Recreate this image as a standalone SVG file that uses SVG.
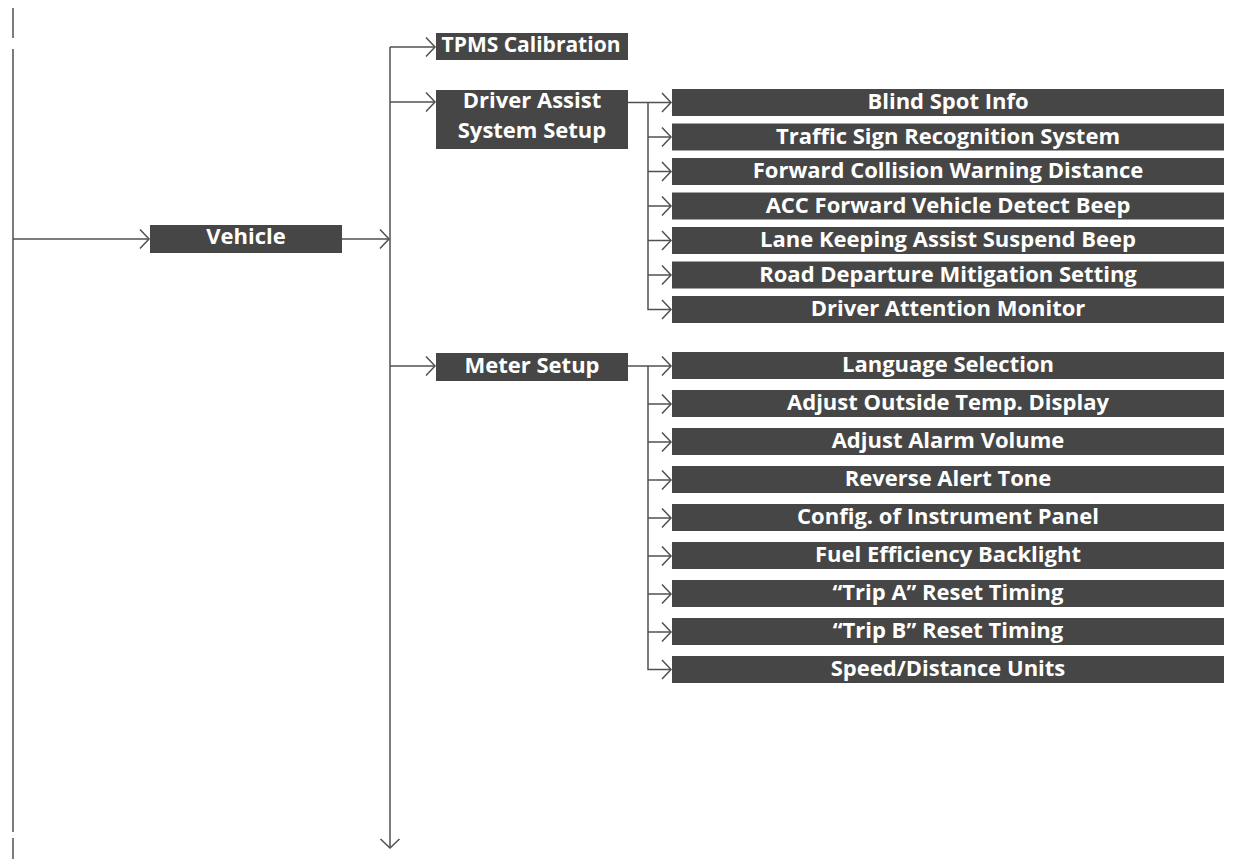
<svg xmlns="http://www.w3.org/2000/svg" width="1235" height="859" viewBox="0 0 1235 859">
<style>
.box{fill:#464646}
.t{font-family:"Open Sans","Noto Sans","DejaVu Sans",sans-serif;font-weight:bold;font-size:22px;fill:#ffffff;text-anchor:middle}
.ln{fill:none;stroke:#505050;stroke-width:1.5}
</style>
<defs>
<marker id="ch" markerUnits="userSpaceOnUse" markerWidth="24" markerHeight="24" viewBox="-12 -12 24 24" refX="0" refY="0" orient="auto" overflow="visible">
<path d="M-9,-9.5 L0,0 L-9,9.5" fill="none" stroke="#505050" stroke-width="1.5"/>
</marker>
</defs>
<g id="connectors">
<path class="ln" d="M13,8 V38"/>
<path class="ln" d="M13,49 V832"/>
<path class="ln" d="M13,838 V859"/>
<path class="ln" d="M13,239 H149" marker-end="url(#ch)"/>
<path class="ln" d="M342,239 H389" marker-end="url(#ch)"/>
<path class="ln" d="M390,47 V848" marker-end="url(#ch)"/>
<path class="ln" d="M390,47 H435" marker-end="url(#ch)"/>
<path class="ln" d="M390,102 H435" marker-end="url(#ch)"/>
<path class="ln" d="M390,366 H435" marker-end="url(#ch)"/>
<path class="ln" d="M628,102.5 H671" marker-end="url(#ch)"/>
<path class="ln" d="M648,102.5 V309.5 H671" marker-end="url(#ch)"/>
<path class="ln" d="M648,137 H671" marker-end="url(#ch)"/>
<path class="ln" d="M648,171.5 H671" marker-end="url(#ch)"/>
<path class="ln" d="M648,206 H671" marker-end="url(#ch)"/>
<path class="ln" d="M648,240.5 H671" marker-end="url(#ch)"/>
<path class="ln" d="M648,275 H671" marker-end="url(#ch)"/>
<path class="ln" d="M628,366 H671" marker-end="url(#ch)"/>
<path class="ln" d="M648,366 V669.5 H671" marker-end="url(#ch)"/>
<path class="ln" d="M648,404 H671" marker-end="url(#ch)"/>
<path class="ln" d="M648,442 H671" marker-end="url(#ch)"/>
<path class="ln" d="M648,480 H671" marker-end="url(#ch)"/>
<path class="ln" d="M648,518 H671" marker-end="url(#ch)"/>
<path class="ln" d="M648,556 H671" marker-end="url(#ch)"/>
<path class="ln" d="M648,594 H671" marker-end="url(#ch)"/>
<path class="ln" d="M648,632 H671" marker-end="url(#ch)"/>
</g>
<g id="vehicle"><rect class="box" x="150" y="225" width="192" height="28"/><text class="t" x="246" y="244">Vehicle</text></g>
<g id="tpms"><rect class="box" x="436" y="33" width="192" height="27"/><text class="t" x="531" y="52" style="font-size:21px">TPMS Calibration</text></g>
<g id="driver-assist"><rect class="box" x="436" y="90" width="192" height="59"/><text class="t" x="532" y="107.5">Driver Assist</text><text class="t" x="532" y="137.5">System Setup</text></g>
<g id="meter"><rect class="box" x="436" y="353" width="192" height="28"/><text class="t" x="532" y="373">Meter Setup</text></g>
<g id="blind-spot"><rect class="box" x="672" y="89" width="552" height="27"/><text class="t" x="948" y="109">Blind Spot Info</text></g>
<g id="traffic-sign"><rect class="box" x="672" y="123.5" width="552" height="27"/><text class="t" x="948" y="143.5">Traffic Sign Recognition System</text></g>
<g id="fcw"><rect class="box" x="672" y="158" width="552" height="27"/><text class="t" x="948" y="178">Forward Collision Warning Distance</text></g>
<g id="acc"><rect class="box" x="672" y="192.5" width="552" height="27"/><text class="t" x="948" y="212.5">ACC Forward Vehicle Detect Beep</text></g>
<g id="lka"><rect class="box" x="672" y="227" width="552" height="27"/><text class="t" x="948" y="247">Lane Keeping Assist Suspend Beep</text></g>
<g id="rdm"><rect class="box" x="672" y="261.5" width="552" height="27"/><text class="t" x="948" y="281.5">Road Departure Mitigation Setting</text></g>
<g id="dam"><rect class="box" x="672" y="296" width="552" height="27"/><text class="t" x="948" y="316">Driver Attention Monitor</text></g>
<g id="language"><rect class="box" x="672" y="352" width="552" height="27"/><text class="t" x="948" y="372">Language Selection</text></g>
<g id="outside-temp"><rect class="box" x="672" y="390" width="552" height="27"/><text class="t" x="948" y="410">Adjust Outside Temp. Display</text></g>
<g id="alarm"><rect class="box" x="672" y="428" width="552" height="27"/><text class="t" x="948" y="448">Adjust Alarm Volume</text></g>
<g id="reverse"><rect class="box" x="672" y="466" width="552" height="27"/><text class="t" x="948" y="486">Reverse Alert Tone</text></g>
<g id="config"><rect class="box" x="672" y="504" width="552" height="27"/><text class="t" x="948" y="524">Config. of Instrument Panel</text></g>
<g id="fuel"><rect class="box" x="672" y="542" width="552" height="27"/><text class="t" x="948" y="562">Fuel Efficiency Backlight</text></g>
<g id="trip-a"><rect class="box" x="672" y="580" width="552" height="27"/><text class="t" x="948" y="600">“Trip A” Reset Timing</text></g>
<g id="trip-b"><rect class="box" x="672" y="618" width="552" height="27"/><text class="t" x="948" y="638">“Trip B” Reset Timing</text></g>
<g id="units"><rect class="box" x="672" y="656" width="552" height="27"/><text class="t" x="948" y="676">Speed/Distance Units</text></g>
</svg>
